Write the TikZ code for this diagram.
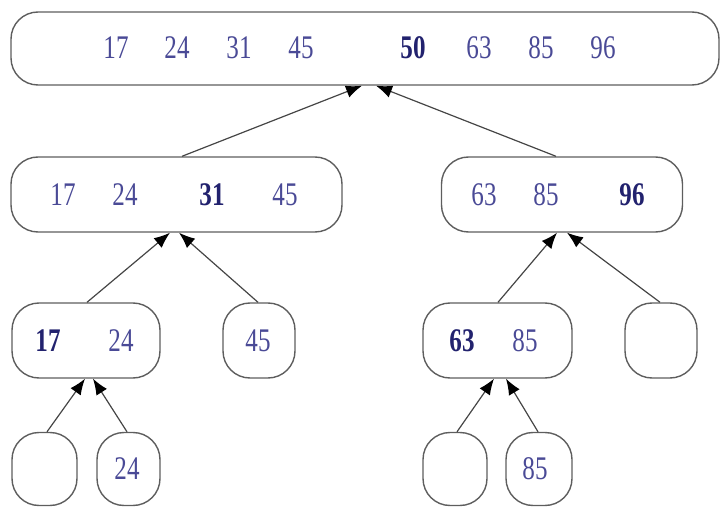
\documentclass[tikz,border=0pt]{standalone}
\usepackage{fontspec}
\newfontfamily\numfont[FakeStretch=0.76]{Liberation Serif}
\usetikzlibrary{arrows.meta,calc}
\definecolor{numcol}{HTML}{4A4A96}
\definecolor{boldcol}{HTML}{22226E}
\definecolor{boxcol}{HTML}{5E5E5E}
\definecolor{linecol}{HTML}{454545}
\begin{document}
\begin{tikzpicture}[x=1pt,y=-1pt,
  box/.style={draw=boxcol,line width=1.4pt,rounded corners=27pt,inner sep=0pt},
  num/.style={inner sep=0pt,text=numcol,font=\numfont\fontsize{33}{36}\selectfont},
  bnum/.style={num,text=boldcol,font=\numfont\bfseries\fontsize{33}{36}\selectfont},
  arr/.style={draw=linecol,line width=1.2pt,-{Latex[length=16pt,width=12.5pt,fill=black,color=black]}}]
\useasboundingbox (0,0) rectangle (721,508);
% boxes
\node[box,minimum width=708pt,minimum height=73pt] (top) at (365,48.5) {};
\node[box,minimum width=331pt,minimum height=75pt] (L2a) at (176.5,194.5) {};
\node[box,minimum width=241pt,minimum height=75pt] (L2b) at (562,194.5) {};
\node[box,minimum width=148pt,minimum height=75pt] (L3a) at (86,340.5) {};
\node[box,minimum width=72pt,minimum height=75pt] (L3b) at (259,340.5) {};
\node[box,minimum width=149pt,minimum height=75pt] (L3c) at (497.5,340.5) {};
\node[box,minimum width=72pt,minimum height=75pt] (L3d) at (661,340.5) {};
\node[box,minimum width=65pt,minimum height=73pt] (L4a) at (44.5,469) {};
\node[box,minimum width=63pt,minimum height=73pt] (L4b) at (128.5,469) {};
\node[box,minimum width=64pt,minimum height=73pt] (L4c) at (455,469) {};
\node[box,minimum width=66pt,minimum height=73pt] (L4d) at (539,469) {};
% numbers, top
\node[num] (t1) at (116,48) {17};
\node[num] (t2) at (177,48) {24};
\node[num] (t3) at (239,48) {31};
\node[num] (t4) at (301,48) {45};
\node[bnum] (t5) at (413,48) {50};
\node[num] (t6) at (479,48) {63};
\node[num] (t7) at (541,48) {85};
\node[num] (t8) at (603,48) {96};
% level 2
\node[num] (a1) at (63,195) {17};
\node[num] (a2) at (125,195) {24};
\node[bnum] (a3) at (212,195) {31};
\node[num] (a4) at (285,195) {45};
\node[num] (b1) at (484,195) {63};
\node[num] (b2) at (546,195) {85};
\node[bnum] (b3) at (632,195) {96};
% level 3
\node[bnum] (c1) at (48,341) {17};
\node[num] (c2) at (121,341) {24};
\node[num] (d1) at (258,341) {45};
\node[bnum] (e1) at (462,341) {63};
\node[num] (e2) at (525,341) {85};
% level 4
\node[num] (f1) at (127,469) {24};
\node[num] (g1) at (535,469) {85};
% connectors
\draw[arr] ([xshift=5.5pt]L2a.north) -- ([xshift=-3pt]top.south);
\draw[arr] ([xshift=-6pt]L2b.north) -- ([xshift=11pt]top.south);
\draw[arr] ([xshift=1pt]L3a.north) -- ([xshift=-6.5pt]L2a.south);
\draw[arr] ([xshift=-1pt]L3b.north) -- ([xshift=2.5pt]L2a.south);
\draw[arr] ([xshift=0.5pt]L3c.north) -- ([xshift=-5pt]L2b.south);
\draw[arr] ([xshift=-1pt]L3d.north) -- ([xshift=5pt]L2b.south);
\draw[arr] ([xshift=2.5pt]L4a.north) -- ([xshift=-1pt]L3a.south);
\draw[arr] ([xshift=-1.5pt]L4b.north) -- ([xshift=7pt]L3a.south);
\draw[arr] ([xshift=2pt]L4c.north) -- ([xshift=-3.5pt]L3c.south);
\draw[arr] ([xshift=-1pt]L4d.north) -- ([xshift=8.5pt]L3c.south);
\end{tikzpicture}
\end{document}
